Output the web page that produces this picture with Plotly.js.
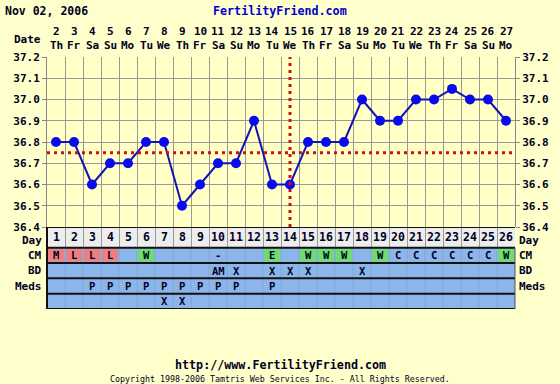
<!DOCTYPE html>
<html>
<head>
<meta charset="utf-8">
<script src="https://cdn.plot.ly/plotly-3.0.1.min.js"></script>
<style>html,body{margin:0;padding:0;background:#FFFFCC;}#chart{width:560px;height:384px;}</style>
</head>
<body>
<div id="chart"></div>
<script>
// ---- data ----
const chartDate = 'Nov 02, 2006';
const dates = [2,3,4,5,6,7,8,9,10,11,12,13,14,15,16,17,18,19,20,21,22,23,24,25,26,27];
const weekdays = ['Th','Fr','Sa','Su','Mo','Tu','We','Th','Fr','Sa','Su','Mo','Tu','We','Th','Fr','Sa','Su','Mo','Tu','We','Th','Fr','Sa','Su','Mo'];
const cycleDays = [1,2,3,4,5,6,7,8,9,10,11,12,13,14,15,16,17,18,19,20,21,22,23,24,25,26];
const temps = [36.8,36.8,36.6,36.7,36.7,36.8,36.8,36.5,36.6,36.7,36.7,36.9,36.6,36.6,36.8,36.8,36.8,37.0,36.9,36.9,37.0,37.0,37.05,37.0,37.0,36.9];
const coverline = 36.75;
const ovulationDay = 14;
const cm   = ['M','L','L','L','','W','','','','-','','','E','','W','W','W','','W','C','C','C','C','C','C','W'];
const bd   = ['','','','','','','','','','AM','X','','X','X','X','','','X','','','','','','','',''];
const meds = ['','','P','P','P','P','P','P','P','P','P','','P','','','','','','','','','','','','',''];
const extra= ['','','','','','','X','X','','','','','','','','','','','','','','','','','',''];
const rowLabels = ['Day','CM','BD','Meds'];
const yTicks = [36.4,36.5,36.6,36.7,36.8,36.9,37.0,37.1,37.2];

// ---- layout helpers ----
const n = cycleDays.length;
const W = 560, H = 384, mL = 47, mR = 45, mT = 57, mB = 75;
const plotH = H - mT - mB;
const tableTopPx = 227;
const splitFrac = (H - mB - tableTopPx) / plotH;
const rowEdges = [0, 1.35, 2.35, 3.35, 4.35, 5.35];
const txt = '#000022';
const mono = 'DejaVu Sans Mono';
function py(p){ return (H - mB - p) / plotH; }

const shapes = [];
const annotations = [];
// Day row background
shapes.push({type:'rect', xref:'paper', yref:'y2', x0:0, x1:1, y0:rowEdges[0], y1:rowEdges[1], fillcolor:'#EDEDED', line:{width:0}, layer:'below'});
// blue rows
shapes.push({type:'rect', xref:'paper', yref:'y2', x0:0, x1:1, y0:rowEdges[1], y1:rowEdges[5], fillcolor:'#8CB5EA', line:{width:0}, layer:'above'});
// cell separators in blue rows
for (let i = 0; i <= n; i++) {
  shapes.push({type:'line', xref:'x', yref:'y2', x0:i+0.5, x1:i+0.5, y0:rowEdges[1], y1:rowEdges[5], line:{color:'#7FA6DA', width:1}, layer:'above'});
}
// coloured CM cells
cm.forEach((v, i) => {
  let c = null;
  if (v === 'M' || v === 'L') c = '#EE7F7F';
  if (v === 'W' || v === 'E') c = '#6EDC6E';
  if (c) shapes.push({type:'rect', xref:'x', yref:'y2', x0:i+0.55, x1:i+1.45, y0:rowEdges[1]+0.08, y1:rowEdges[2]-0.1, fillcolor:c, line:{width:0}, layer:'above'});
});
// horizontal row lines
rowEdges.forEach(e => {
  shapes.push({type:'line', xref:'paper', yref:'y2', x0:0, x1:1, y0:e, y1:e, line:{color:'#111', width:2}, layer:'above'});
});
shapes.push({type:'line', xref:'paper', yref:'y2', x0:0, x1:0, y0:0, y1:rowEdges[5], line:{color:'#111', width:2}, layer:'above'});
shapes.push({type:'line', xref:'paper', yref:'y2', x0:1, x1:1, y0:rowEdges[1], y1:rowEdges[5], line:{color:'#555', width:1}, layer:'above'});
// coverline and ovulation line
shapes.push({type:'line', xref:'x', yref:'y', x0:0.5, x1:n+0.5, y0:coverline, y1:coverline, line:{color:'#CC1111', width:3, dash:'3px,4px'}, layer:'above'});
shapes.push({type:'line', xref:'x', yref:'y', x0:ovulationDay, x1:ovulationDay, y0:36.4, y1:37.2, line:{color:'#CC1111', width:3, dash:'3px,4px'}, layer:'above'});

const f11b = {family:mono, size:11, color:txt, weight:'bold'};
// header
annotations.push({xref:'paper', yref:'paper', x:-mL/ (W-mL-mR) + 3/(W-mL-mR), y:py(11), xanchor:'left', yanchor:'middle', text:chartDate, showarrow:false, font:{family:mono, size:11.5, color:txt, weight:'bold'}});
annotations.push({xref:'paper', yref:'paper', x:(280-mL)/(W-mL-mR), y:py(11), xanchor:'center', yanchor:'middle', text:'FertilityFriend.com', showarrow:false, font:{family:mono, size:11.7, color:'#0000CC', weight:'bold'}});
annotations.push({xref:'paper', yref:'paper', x:0, xshift:-4, y:py(39), xanchor:'right', yanchor:'middle', text:'Date', showarrow:false, font:f11b});
dates.forEach((d, i) => {
  annotations.push({xref:'x', yref:'paper', x:cycleDays[i], y:py(32), xanchor:'center', yanchor:'middle', text:String(d), showarrow:false, font:f11b});
  annotations.push({xref:'x', yref:'paper', x:cycleDays[i], y:py(46), xanchor:'center', yanchor:'middle', text:weekdays[i], showarrow:false, font:f11b});
});
// row labels
rowLabels.forEach((r, k) => {
  const yc = (rowEdges[k] + rowEdges[k+1]) / 2;
  const ys = k === 0 ? -3 : 0;
  annotations.push({xref:'paper', yref:'y2', x:0, xshift:-3, y:yc, yshift:ys, xanchor:'right', yanchor:'middle', text:r, showarrow:false, font:f11b});
  annotations.push({xref:'paper', yref:'y2', x:1, xshift:2, y:yc, yshift:ys, xanchor:'left', yanchor:'middle', text:r, showarrow:false, font:f11b});
});
// table cells
const rows = [cycleDays.map(String), cm, bd, meds, extra];
rows.forEach((row, k) => {
  const yc = (rowEdges[k] + rowEdges[k+1]) / 2;
  row.forEach((v, i) => {
    if (v === '') return;
    annotations.push({xref:'x', yref:'y2', x:cycleDays[i], y:yc, xanchor:'center', yanchor:'middle', text:v, showarrow:false, font:k === 0 ? {family:mono, size:11.5, color:txt, weight:'bold'} : {family:mono, size:10.5, color:txt, weight:'bold'}});
  });
});
// footer
annotations.push({xref:'paper', yref:'paper', x:(280-mL)/(W-mL-mR), y:py(365), xanchor:'center', yanchor:'middle', text:'http://www.FertilityFriend.com', showarrow:false, font:{family:mono, size:11.7, color:txt, weight:'bold'}});
annotations.push({xref:'paper', yref:'paper', x:(280-mL)/(W-mL-mR), y:py(379), xanchor:'center', yanchor:'middle', text:'Copyright 1998-2006 Tamtris Web Services Inc. - All Rights Reserved.', showarrow:false, font:{family:mono, size:8.3, color:txt}});

const traces = [
  {x:cycleDays, y:temps, xaxis:'x', yaxis:'y', type:'scatter', mode:'lines+markers', line:{color:'#1414B4', width:2}, marker:{color:'#0A0AEE', size:10}, hoverinfo:'skip', cliponaxis:false},
  {x:cycleDays, y:temps, xaxis:'x', yaxis:'y3', type:'scatter', mode:'lines', line:{width:0}, opacity:0, hoverinfo:'skip'},
  {x:[cycleDays[0]], y:[1], xaxis:'x', yaxis:'y2', type:'scatter', mode:'markers', marker:{opacity:0}, hoverinfo:'skip'}
];

const tickFont = {family:mono, size:11, color:txt, weight:'bold'};
const layout = {
  width:W, height:H,
  margin:{l:mL, r:mR, t:mT, b:mB, pad:0},
  paper_bgcolor:'#FFFFCC', plot_bgcolor:'#FFFFC6',
  showlegend:false,
  xaxis:{range:[0.5, n+0.5], tickvals:[...cycleDays.map(d => d-0.5), n+0.5], showticklabels:false, ticks:'', showgrid:true, gridcolor:'#999', gridwidth:1, zeroline:false, showline:false, fixedrange:true},
  yaxis:{domain:[splitFrac, 1], range:[36.4, 37.2], tickvals:yTicks, tickformat:'.1f', ticks:'outside', ticklen:4, tickcolor:'#888', tickfont:tickFont, showgrid:true, gridcolor:'#999', zeroline:false, showline:true, linecolor:'#888', linewidth:1, mirror:false},
  yaxis3:{overlaying:'y', side:'right', range:[36.4, 37.2], tickvals:yTicks, tickformat:'.1f', ticks:'outside', ticklen:4, tickcolor:'#888', tickfont:tickFont, showgrid:false, zeroline:false, showline:true, linecolor:'#888'},
  yaxis2:{domain:[0, splitFrac], range:[rowEdges[5], 0], showgrid:false, showticklabels:false, ticks:'', zeroline:false, showline:false},
  shapes:shapes,
  annotations:annotations
};
Plotly.newPlot('chart', traces, layout, {staticPlot:true, displayModeBar:false});
</script>
</body>
</html>
